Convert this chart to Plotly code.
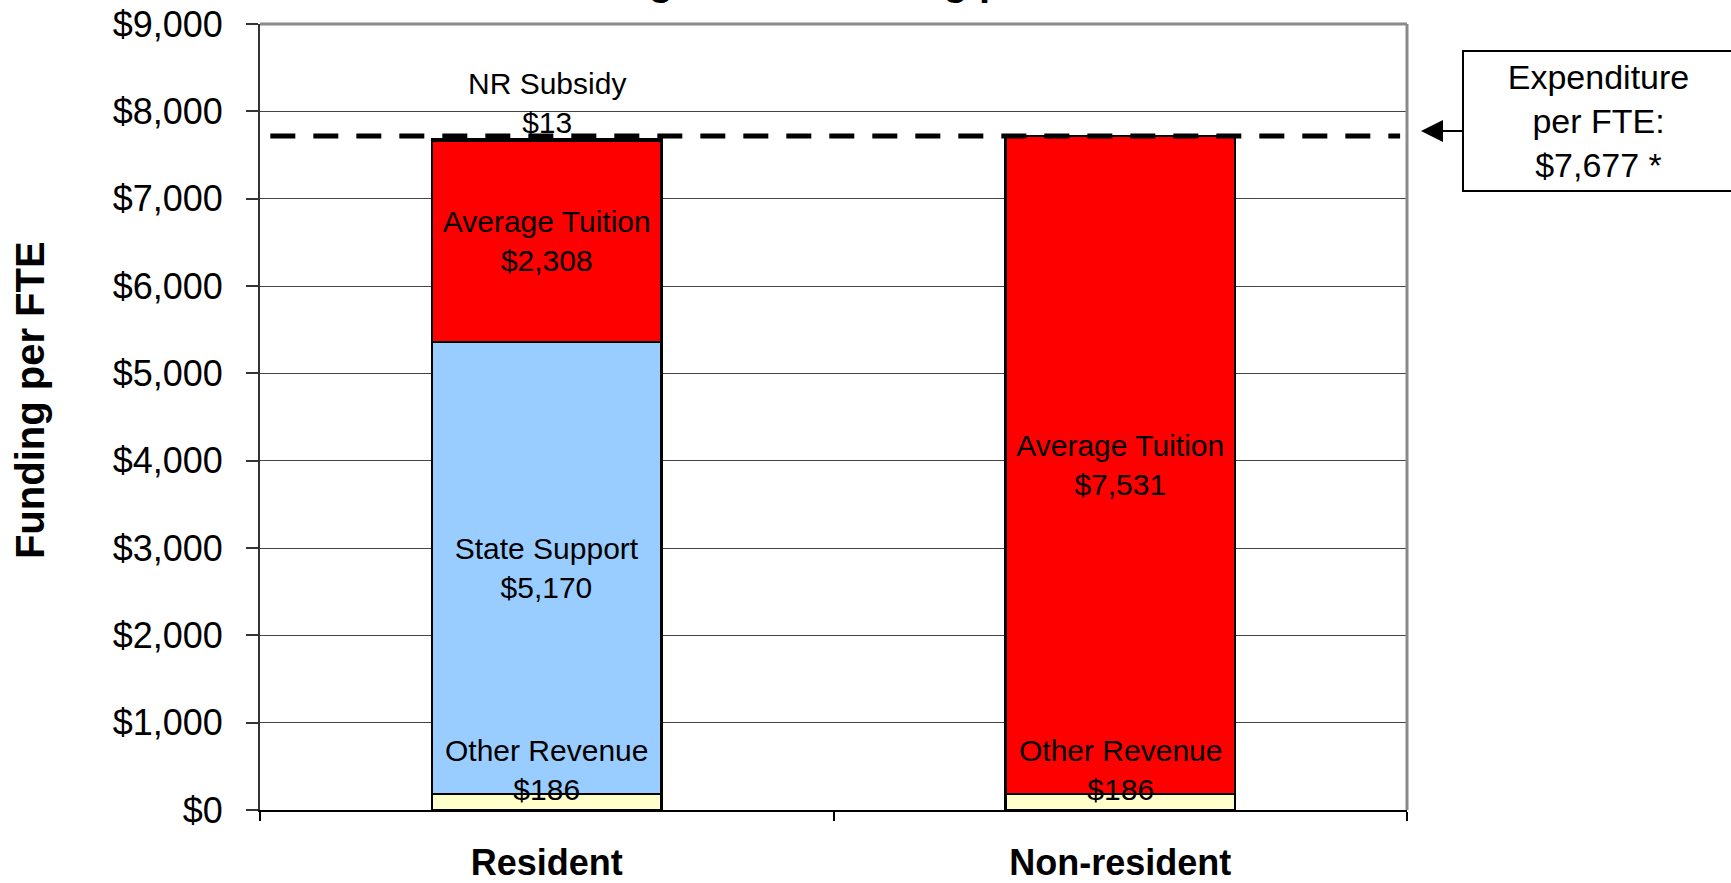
import plotly.graph_objects as go

# ---------------- data ----------------
categories = ["Resident", "Non-resident"]
other_revenue = [186, 186]
state_support = [5170, None]
avg_tuition = [2308, 7531]
nr_subsidy = [13, None]

y_ticks = [0, 1000, 2000, 3000, 4000, 5000, 6000, 7000, 8000, 9000]
y_ticktext = [f"${v:,}" for v in y_ticks]
title_text = "Average Total Funding per FTE"
y_title = "Funding per FTE"

totals = [sum(v or 0 for v in vals) for vals in zip(other_revenue, state_support, avg_tuition, nr_subsidy)]
expenditure = totals[0]          # $7,677
dash_level = totals[1]           # dashed reference line sits on the non-resident total

FONT = "Liberation Sans, Arial, sans-serif"
RED = "#FF0000"
BLUE = "#99CCFF"
YELLOW = "#FFFFCC"

fig = go.Figure()

line = dict(color="black", width=2.5)

fig.add_trace(go.Bar(x=categories, y=other_revenue, name="Other Revenue",
                     marker=dict(color=YELLOW, line=line)))
fig.add_trace(go.Bar(x=categories, y=state_support, name="State Support",
                     marker=dict(color=BLUE, line=line),
                     texttemplate="State Support<br>$%{y:,}", textposition="inside",
                     insidetextanchor="middle", constraintext="none", textangle=0,
                     textfont=dict(family=FONT, size=30, color="black")))
fig.add_trace(go.Bar(x=categories, y=avg_tuition, name="Average Tuition",
                     marker=dict(color=RED, line=line),
                     texttemplate="Average Tuition<br>$%{y:,}", textposition="inside",
                     insidetextanchor="middle", constraintext="none", textangle=0,
                     textfont=dict(family=FONT, size=30, color="black")))
fig.add_trace(go.Bar(x=categories, y=nr_subsidy, name="NR Subsidy",
                     marker=dict(color="white", line=line)))

# labels for small segments
for cat, v in zip(categories, other_revenue):
    fig.add_annotation(x=cat, y=0, xref="x", yref="y", yanchor="bottom", yshift=3,
                       text=f"Other Revenue<br>${v:,}", showarrow=False,
                       font=dict(family=FONT, size=30, color="black"), borderpad=0)
fig.add_annotation(x=categories[0], y=totals[0], xref="x", yref="y", yanchor="bottom",
                   text=f"NR Subsidy<br>${nr_subsidy[0]:,}", showarrow=False,
                   font=dict(family=FONT, size=30, color="black"), borderpad=0)

# dashed expenditure line
fig.add_shape(type="line", xref="paper", yref="y", x0=0.009, x1=0.994,
              y0=dash_level, y1=dash_level,
              line=dict(color="black", width=5, dash="25px,18px"))

# plot area border (top/right)
fig.add_shape(type="line", xref="paper", yref="paper", x0=0, x1=1, y0=1, y1=1,
              line=dict(color="#8a8a8a", width=3))
fig.add_shape(type="line", xref="paper", yref="paper", x0=1, x1=1, y0=0, y1=1,
              line=dict(color="#8a8a8a", width=3))

# arrow + callout box
fig.add_annotation(x=1.0122, y=dash_level, xref="paper", yref="y", yshift=5,
                   ax=77, ay=0, axref="pixel", ayref="pixel",
                   text="", showarrow=True, arrowhead=2, arrowsize=2.2,
                   arrowwidth=2, arrowcolor="black")
fig.add_annotation(x=1.167, y=0.8766, xref="paper", yref="paper",
                   xanchor="center", yanchor="middle",
                   text=f"Expenditure<br>per FTE:<br>${expenditure:,} *",
                   showarrow=False, align="center",
                   font=dict(family=FONT, size=34, color="black"),
                   bordercolor="black", borderwidth=2, borderpad=4,
                   bgcolor="white", width=261, height=130)

# clipped title (only descenders visible)
fig.add_annotation(x=0.5, y=1, xref="paper", yref="paper", xanchor="center",
                   yanchor="bottom", yshift=20, text=f"<b>{title_text}</b>",
                   showarrow=False, borderpad=0,
                   font=dict(family=FONT, size=40, color="black"))

# y-axis title
fig.add_annotation(x=-0.2, y=0.521, xref="paper", yref="paper",
                   xanchor="center", yanchor="middle", textangle=-90,
                   text=f"<b>{y_title}</b>", showarrow=False,
                   font=dict(family=FONT, size=40, color="black"))

fig.update_layout(
    width=1731,
    height=883,
    barmode="stack",
    bargap=0.6,
    showlegend=False,
    plot_bgcolor="white",
    paper_bgcolor="white",
    margin=dict(l=260, r=324, t=24, b=73, autoexpand=False),
    font=dict(family=FONT, color="black"),
    xaxis=dict(
        type="category", range=[-0.5, 1.5], automargin=False,
        showline=True, linecolor="black", linewidth=2,
        ticks="outside", tickson="boundaries", ticklen=9, tickcolor="black", tickwidth=1.5,
        tickfont=dict(family=FONT, size=36, color="black"),
        tickprefix="<b>", ticksuffix="</b>",
        ticklabelstandoff=20,
        showgrid=False, zeroline=False,
    ),
    yaxis=dict(
        range=[0, 9000], tickvals=y_ticks, ticktext=y_ticktext, automargin=False,
        showline=True, linecolor="#333333", linewidth=2,
        ticks="outside", ticklen=12, tickcolor="#333333", tickwidth=1.5,
        tickfont=dict(family=FONT, size=36, color="black"),
        ticklabelstandoff=16,
        showgrid=True, gridcolor="#444444", gridwidth=1.3,
        zeroline=False,
    ),
)

fig.write_html(
    "out.html",
    config={"responsive": False, "displayModeBar": False},
    post_script="document.body.style.margin='0px'; document.body.style.overflow='hidden';",
)
